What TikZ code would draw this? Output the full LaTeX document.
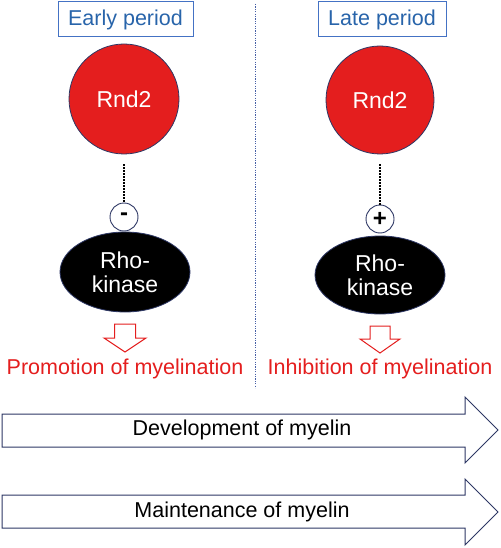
\documentclass[tikz,border=0pt]{standalone}
\usepackage{fontspec}
\setmainfont{Liberation Sans}
\usetikzlibrary{calc}
\definecolor{boxblue}{RGB}{68,114,196}
\definecolor{txtblue}{RGB}{40,100,170}
\definecolor{rndred}{RGB}{228,30,30}
\definecolor{navy}{RGB}{45,55,100}
\definecolor{dotblue}{RGB}{70,95,165}
\tikzset{
  lbl/.style={font=\fontsize{21.5}{24}\selectfont},
  periodbox/.style={lbl, draw=boxblue, line width=1pt, text=txtblue, minimum height=35pt, inner sep=0pt},
  rnd/.style={circle, fill=rndred, draw=navy, line width=0.8pt, text=white, font=\fontsize{23}{26}\selectfont, inner sep=0pt},
  sign/.style={circle, draw=navy, line width=0.9pt, fill=white, minimum size=28pt, inner sep=0pt, font=\fontsize{24}{26}\selectfont\bfseries},
  rho/.style={ellipse, fill=black, draw=navy, line width=0.8pt, text=white, font=\fontsize{23}{25}\selectfont, align=center, inner sep=0pt},
  dotline/.style={black, line width=2pt, line cap=butt, dash pattern=on 1.5pt off 1.5pt},
  hollowdown/.style={draw=rndred, line width=1pt, fill=white},
  bigarrow/.style={draw=navy, line width=1pt, fill=white},
  redtext/.style={lbl, text=rndred},
}
\usetikzlibrary{shapes.geometric}
\begin{document}
\begin{tikzpicture}[x=1pt,y=-1pt]
\useasboundingbox (0,0) rectangle (500,548);
% period boxes
\node[periodbox, minimum width=135pt] (ep) at (125.5,19.5) {Early period};
\node[periodbox, minimum width=128pt] (lp) at (382,19.5) {Late period};
% separator
\coordinate (septop) at (255.5,4);
\coordinate (sepbot) at (255.5,388);
\draw[dotblue, line width=1.4pt, dash pattern=on 1.2pt off 1.2pt] (septop) -- (sepbot);
% left column
\node[rnd, minimum size=110pt] (r1) at (124,99) {Rnd2};
\node[sign] (s1) at (124,217) {-};
\node[rho, minimum width=130pt, minimum height=80pt] (k1) at (125,272) {Rho-\\[-1pt]kinase};
\draw[dotline, shorten <=10pt] (r1.south) -- (s1.north);
% right column
\node[rnd, minimum size=108pt] (r2) at (380,100) {Rnd2};
\node[sign] (s2) at (380,219) {+};
\node[rho, minimum width=130pt, minimum height=78pt] (k2) at (380,275) {Rho-\\[-1pt]kinase};
\draw[dotline, shorten <=10pt] (r2.south) -- (s2.north);
% hollow down arrows
\coordinate (a1) at (125,324);
\draw[hollowdown] ($(a1)+(-10.5,0)$) -- ($(a1)+(10.5,0)$) -- ($(a1)+(10.5,14)$) -- ($(a1)+(21,14)$) -- ($(a1)+(0,28)$) -- ($(a1)+(-21,14)$) -- ($(a1)+(-10.5,14)$) -- cycle;
\coordinate (a2) at (380,326);
\draw[hollowdown] ($(a2)+(-10,0)$) -- ($(a2)+(10,0)$) -- ($(a2)+(10,13)$) -- ($(a2)+(20,13)$) -- ($(a2)+(0,27)$) -- ($(a2)+(-20,13)$) -- ($(a2)+(-10,13)$) -- cycle;
\node[redtext] (t1) at (125,369) {Promotion of myelination};
\node[redtext] (t2) at (380,369) {Inhibition of myelination};
% big arrows
\draw[bigarrow] (2,414) -- (465,414) -- (465,397) -- (498,430) -- (465,463) -- (465,447) -- (2,447) -- cycle;
\node[lbl] (dev) at (242,430) {Development of myelin};
\draw[bigarrow] (2,495) -- (465,495) -- (465,479) -- (498,512) -- (465,545) -- (465,528) -- (2,528) -- cycle;
\node[lbl] (mnt) at (242,512) {Maintenance of myelin};
\end{tikzpicture}
\end{document}
